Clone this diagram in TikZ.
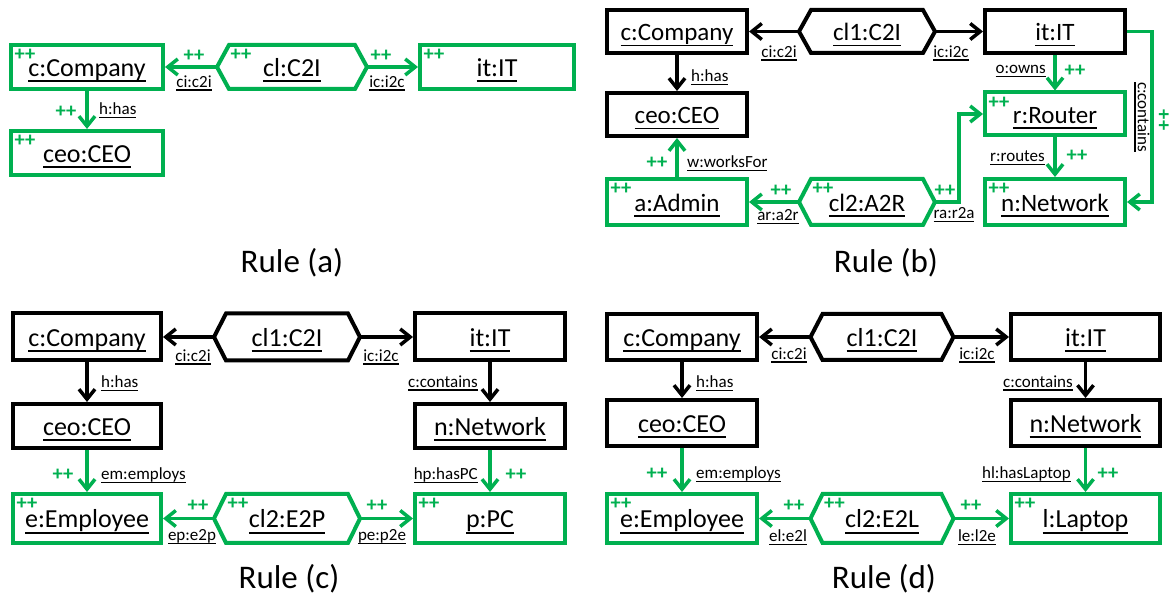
\documentclass[tikz,border=0pt]{standalone}
\usepackage{fontspec}
\setmainfont{Carlito}
\usetikzlibrary{arrows.meta,calc}
\definecolor{grn}{RGB}{0,176,80}

% underline at a fixed distance below the baseline
\newcommand\uln[1]{\setbox0=\hbox{#1}\rlap{\rule[-0.215em]{\wd0}{0.07em}}\box0}

% hexagonal link object: name, centre, body width, height, text, colour
\newcommand\hexn[6]{%
  \node[hexbody, minimum width=#3, minimum height=#4] (#1) at (#2) {\uln{#5}};
  \coordinate (#1-l) at ($(#1.west)+(-12,0)$);
  \coordinate (#1-r) at ($(#1.east)+(12,0)$);
  \draw[hexline, draw=#6] (#1.north west) -- (#1.north east) -- (#1-r)
     -- (#1.south east) -- (#1.south west) -- (#1-l) -- cycle;}

% "created" markers in the corner of a hexagon or a box
\newcommand\hexplus[1]{\node[plus] (#1-pp) at ($(#1.north west)+(12,10)$) {++};}
\newcommand\boxplus[1]{\node[plus] (#1-pp) at ($(#1.north west)+(16,12)$) {++};}

\tikzset{
  objfont/.style={font=\fontsize{26pt}{30pt}\selectfont},
  objbox/.style={draw, rectangle, line width=4pt, inner sep=0pt,
     text height=22pt, text depth=3pt, objfont},
  gbox/.style={objbox, draw=grn},
  kbox/.style={objbox, draw=black},
  hexbody/.style={rectangle, inner sep=0pt, outer sep=0pt,
     text height=22pt, text depth=3pt, objfont},
  hexline/.style={line width=4pt, line join=miter},
  conn/.style={line width=3.5pt, -{Straight Barb[length=10pt,width=16pt]}},
  gconn/.style={conn, draw=grn},
  kconn/.style={conn, draw=black},
  elab/.style={font=\fontsize{17pt}{20pt}\selectfont, inner sep=0pt},
  plus/.style={font=\fontsize{20.5pt}{22pt}\selectfont\bfseries, text=grn, inner sep=0pt},
  rulelab/.style={font=\fontsize{33pt}{38pt}\selectfont, anchor=base, inner sep=0pt},
}

\begin{document}
\begin{tikzpicture}[x=1pt, y=-1pt]
\useasboundingbox (0,0) rectangle (1171,601);

% ---------------- Rule (a)
\node[gbox, minimum width=152pt, minimum height=44pt] (a-comp) at (87,67) {\uln{c:Company}};
\hexn{a-hex}{292,67}{126pt}{44pt}{cl:C2I}{grn}
\node[gbox, minimum width=154pt, minimum height=44pt] (a-it) at (497,67) {\uln{it:IT}};
\node[gbox, minimum width=152pt, minimum height=44pt] (a-ceo) at (87,153) {\uln{ceo:CEO}};
\boxplus{a-comp}\hexplus{a-hex}\boxplus{a-it}\boxplus{a-ceo}
\draw[gconn] (a-hex-l) -- (a-comp.east);
\draw[gconn] (a-hex-r) -- (a-it.west);
\draw[gconn] (a-comp.south) -- (a-ceo.north);
\node[plus] (a-p1) at (194,56) {++};
\node[elab] (a-l1) at (194,83) {\uln{ci:c2i}};
\node[plus] (a-p2) at (381,56) {++};
\node[elab] (a-l2) at (387,83) {\uln{ic:i2c}};
\node[plus] (a-p3) at (66,112) {++};
\node[elab, anchor=west] (a-l3) at (99,110) {\uln{h:has}};
\node[rulelab] (a-rule) at (292,273) {Rule (a)};

% ---------------- Rule (b)
\begin{scope}[objfont/.style={font=\fontsize{25pt}{29pt}\selectfont}]
\node[kbox, minimum width=140pt, minimum height=43pt] (b-comp) at (677,31.5) {\uln{c:Company}};
\hexn{b-hex1}{867,31.5}{112pt}{43pt}{cl1:C2I}{black}
\node[kbox, minimum width=140pt, minimum height=43pt] (b-it) at (1055,31.5) {\uln{it:IT}};
\node[kbox, minimum width=140pt, minimum height=43pt] (b-ceo) at (677,114.5) {\uln{ceo:CEO}};
\node[gbox, minimum width=140pt, minimum height=43pt] (b-rtr) at (1055,114) {\uln{r:Router}};
\node[gbox, minimum width=140pt, minimum height=46pt] (b-adm) at (677,202) {\uln{a:Admin}};
\hexn{b-hex2}{867,202}{112pt}{46pt}{cl2:A2R}{grn}
\node[gbox, minimum width=140pt, minimum height=46pt] (b-net) at (1055,202) {\uln{n:Network}};
\end{scope}
\boxplus{b-rtr}\boxplus{b-adm}\hexplus{b-hex2}\boxplus{b-net}
\draw[kconn] (b-hex1-l) -- (b-comp.east);
\draw[kconn] (b-hex1-r) -- (b-it.west);
\draw[kconn] (b-comp.south) -- (b-ceo.north);
\draw[gconn] (b-adm.north) -- (b-ceo.south);
\draw[gconn] (b-hex2-l) -- (b-adm.east);
\draw[gconn] (b-hex2-r) -- ++(24,0) |- (b-rtr.west);
\draw[gconn] (b-it.south) -- (b-rtr.north);
\draw[gconn] (b-rtr.south) -- (b-net.north);
\draw[gconn] (b-it.east) -- ++(25,0) |- (b-net.east);
\node[elab] (b-l1) at (779,53) {\uln{ci:c2i}};
\node[elab] (b-l2) at (951,53) {\uln{ic:i2c}};
\node[elab, anchor=west] (b-l3) at (691,77) {\uln{h:has}};
\node[elab, anchor=east] (b-l4) at (1046,71) {\uln{o:owns}};
\node[plus] (b-p4) at (1075,71) {++};
\node[elab, anchor=east] (b-l5) at (1045,158) {\uln{r:routes}};
\node[plus] (b-p5) at (1077,156) {++};
\node[elab, anchor=west] (b-l6) at (687,163) {\uln{w:worksFor}};
\node[plus] (b-p6) at (657,163) {++};
\node[elab] (b-l7) at (778,217) {\uln{ar:a2r}};
\node[plus] (b-p7) at (781,191) {++};
\node[elab] (b-l8) at (954,215) {\uln{ra:r2a}};
\node[plus] (b-p8) at (945,191) {++};
\node[elab, rotate=-90] (b-l9) at (1142,117) {\uln{c:contains}};
\node[plus, rotate=-90] (b-p9) at (1163,120) {++};
\node[rulelab] (b-rule) at (886,273) {Rule (b)};

% ---------------- Rule (c)
\node[kbox, minimum width=148pt, minimum height=47pt] (c-comp) at (87,337) {\uln{c:Company}};
\hexn{c-hex1}{287,337}{122pt}{47pt}{cl1:C2I}{black}
\node[kbox, minimum width=150pt, minimum height=47pt] (c-it) at (490,337) {\uln{it:IT}};
\node[kbox, minimum width=148pt, minimum height=44pt] (c-ceo) at (87,426) {\uln{ceo:CEO}};
\node[kbox, minimum width=150pt, minimum height=44pt] (c-net) at (490,426) {\uln{n:Network}};
\node[gbox, minimum width=148pt, minimum height=49pt] (c-emp) at (87,518.5) {\uln{e:Employee}};
\hexn{c-hex2}{287,518.5}{122pt}{49pt}{cl2:E2P}{grn}
\node[gbox, minimum width=150pt, minimum height=49pt] (c-pc) at (490,518.5) {\uln{p:PC}};
\boxplus{c-emp}\hexplus{c-hex2}\boxplus{c-pc}
\draw[kconn] (c-hex1-l) -- (c-comp.east);
\draw[kconn] (c-hex1-r) -- (c-it.west);
\draw[kconn] (c-comp.south) -- (c-ceo.north);
\draw[kconn] (c-it.south) -- (c-net.north);
\draw[gconn] (c-ceo.south) -- (c-emp.north);
\draw[gconn] (c-net.south) -- (c-pc.north);
\draw[gconn] (c-hex2-l) -- (c-emp.east);
\draw[gconn] (c-hex2-r) -- (c-pc.west);
\node[elab] (c-l1) at (193,357) {\uln{ci:c2i}};
\node[elab] (c-l2) at (381,357) {\uln{ic:i2c}};
\node[elab, anchor=west] (c-l3) at (101,383) {\uln{h:has}};
\node[elab, anchor=east] (c-l4) at (478,383) {\uln{c:contains}};
\node[elab, anchor=west] (c-l5) at (101,475) {\uln{em:employs}};
\node[plus] (c-p5) at (63,475) {++};
\node[elab, anchor=east] (c-l6) at (478,475) {\uln{hp:hasPC}};
\node[plus] (c-p6) at (516,475) {++};
\node[elab] (c-l7) at (192,537) {\uln{ep:e2p}};
\node[plus] (c-p7) at (198,506) {++};
\node[elab] (c-l8) at (382,537) {\uln{pe:p2e}};
\node[plus] (c-p8) at (377,506) {++};
\node[rulelab] (c-rule) at (289,588) {Rule (c)};

% ---------------- Rule (d)
\node[kbox, minimum width=150pt, minimum height=46pt] (d-comp) at (682,337) {\uln{c:Company}};
\hexn{d-hex1}{882,337}{119pt}{46pt}{cl1:C2I}{black}
\node[kbox, minimum width=149pt, minimum height=46pt] (d-it) at (1085.5,337) {\uln{it:IT}};
\node[kbox, minimum width=150pt, minimum height=46pt] (d-ceo) at (682,423) {\uln{ceo:CEO}};
\node[kbox, minimum width=149pt, minimum height=46pt] (d-net) at (1085.5,423) {\uln{n:Network}};
\node[gbox, minimum width=150pt, minimum height=49pt] (d-emp) at (682,518.5) {\uln{e:Employee}};
\hexn{d-hex2}{882,518.5}{119pt}{49pt}{cl2:E2L}{grn}
\node[gbox, minimum width=149pt, minimum height=49pt] (d-lap) at (1085.5,518.5) {\uln{l:Laptop}};
\boxplus{d-emp}\hexplus{d-hex2}\boxplus{d-lap}
\draw[kconn] (d-hex1-l) -- (d-comp.east);
\draw[kconn] (d-hex1-r) -- (d-it.west);
\draw[kconn] (d-comp.south) -- (d-ceo.north);
\draw[kconn] (d-it.south) -- (d-net.north);
\draw[gconn] (d-ceo.south) -- (d-emp.north);
\draw[gconn] (d-net.south) -- (d-lap.north);
\draw[gconn] (d-hex2-l) -- (d-emp.east);
\draw[gconn] (d-hex2-r) -- (d-lap.west);
\node[elab] (d-l1) at (789,355) {\uln{ci:c2i}};
\node[elab] (d-l2) at (977,355) {\uln{ic:i2c}};
\node[elab, anchor=west] (d-l3) at (696,383) {\uln{h:has}};
\node[elab, anchor=east] (d-l4) at (1073,383) {\uln{c:contains}};
\node[elab, anchor=west] (d-l5) at (696,474) {\uln{em:employs}};
\node[plus] (d-p5) at (657,474) {++};
\node[elab, anchor=east] (d-l6) at (1071,474) {\uln{hl:hasLaptop}};
\node[plus] (d-p6) at (1108,474) {++};
\node[elab] (d-l7) at (788,537) {\uln{el:e2l}};
\node[plus] (d-p7) at (794,506) {++};
\node[elab] (d-l8) at (977,537) {\uln{le:l2e}};
\node[plus] (d-p8) at (971,506) {++};
\node[rulelab] (d-rule) at (884,588) {Rule (d)};
\end{tikzpicture}
\end{document}
